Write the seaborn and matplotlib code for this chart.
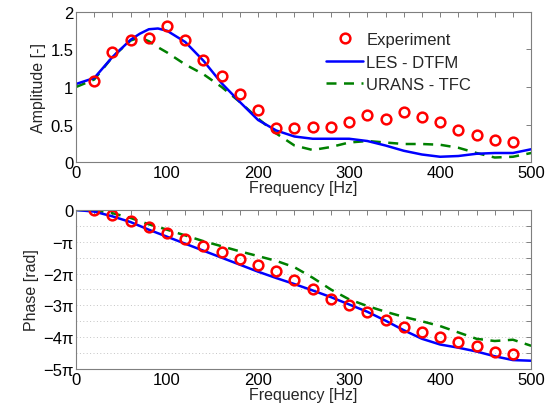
import numpy as np
import matplotlib
matplotlib.use("Agg")
import matplotlib.pyplot as plt
from matplotlib.lines import Line2D
from matplotlib.ticker import MultipleLocator
import seaborn as sns

# Experiment (every 20 Hz)
exp_freq = [20, 40, 60, 80, 100, 120, 140, 160, 180, 200, 220, 240,
            260, 280, 300, 320, 340, 360, 380, 400, 420, 440, 460, 480]
exp_amp = [1.08, 1.47, 1.63, 1.65, 1.81, 1.62, 1.36, 1.15, 0.91, 0.70, 0.45, 0.45,
           0.47, 0.47, 0.54, 0.63, 0.57, 0.67, 0.60, 0.54, 0.43, 0.36, 0.30, 0.27]
# phase in units of pi
exp_phase = [0.0, -0.15, -0.36, -0.52, -0.71, -0.92, -1.13, -1.32, -1.53, -1.72, -1.91, -2.2,
             -2.47, -2.81, -3.0, -3.21, -3.46, -3.67, -3.83, -4.0, -4.14, -4.28, -4.47, -4.53]

# Model curves
sim_freq = [0, 20, 40, 60, 70, 80, 90, 100, 120, 140, 160, 180, 200, 220, 240, 260, 280,
            300, 320, 340, 360, 380, 400, 420, 440, 460, 480, 500]
les_amp = [1.04, 1.12, 1.40, 1.63, 1.71, 1.77, 1.78, 1.75, 1.60, 1.35, 1.05, 0.80, 0.56,
           0.42, 0.34, 0.31, 0.31, 0.31, 0.28, 0.22, 0.15, 0.10, 0.07, 0.08, 0.11, 0.12, 0.12, 0.17]
urans_amp = [1.00, 1.10, 1.40, 1.62, 1.66, 1.61, 1.53, 1.46, 1.30, 1.17, 1.00, 0.80, 0.58,
             0.38, 0.22, 0.16, 0.20, 0.26, 0.28, 0.26, 0.24, 0.24, 0.23, 0.19, 0.12, 0.06, 0.07, 0.12]
les_phase = [0.0, -0.05, -0.2, -0.38, -0.5, -0.62, -0.73, -0.84, -1.06, -1.28, -1.5, -1.72, -1.94,
             -2.14, -2.33, -2.53, -2.74, -2.97, -3.2, -3.48, -3.78, -4.05, -4.23, -4.33, -4.45, -4.6, -4.72, -4.74]
urans_phase = [0.0, -0.01, -0.1, -0.25, -0.35, -0.45, -0.53, -0.62, -0.8, -0.98, -1.14, -1.3, -1.45,
               -1.6, -1.8, -2.13, -2.5, -2.81, -3.02, -3.2, -3.36, -3.5, -3.65, -3.85, -4.05, -4.12, -4.08, -4.27]

y_phase_labels = ["0", "\u2212\u03c0", "\u22122\u03c0", "\u22123\u03c0", "\u22124\u03c0", "\u22125\u03c0"]

sns.set_theme(style="white")
plt.rcParams['font.family'] = ['Liberation Sans', 'DejaVu Sans']
plt.rcParams['font.size'] = 12

RED = "#ff0000"
BLUE = "#0000ff"
GREEN = "#008000"

fig = plt.figure(figsize=(5.47, 4.06), dpi=100)
ax1 = fig.add_axes([0.139, 0.5985, 0.832, 0.3695])
ax2 = fig.add_axes([0.139, 0.0887, 0.832, 0.3916])


def style_axes(ax):
    for s in ax.spines.values():
        s.set_color("#7f7f7f")
        s.set_linewidth(0.8)
    ax.tick_params(which="both", direction="in", top=True, right=True,
                   length=3.5, width=0.7, color="#7f7f7f", labelsize=12,
                   labelcolor="black", pad=2)
    ax.set_xlim(0, 500)
    ax.xaxis.set_major_locator(MultipleLocator(100))
    ax.xaxis.set_minor_locator(MultipleLocator(20))
    ax.set_xlabel("Frequency [Hz]", fontsize=11.5, labelpad=0)


# Amplitude
sns.lineplot(x=sim_freq, y=urans_amp, ax=ax1, color=GREEN, linewidth=1.8)
ax1.lines[-1].set_dashes([4, 3])
sns.lineplot(x=sim_freq, y=les_amp, ax=ax1, color=BLUE, linewidth=1.8)
sns.lineplot(x=exp_freq, y=exp_amp, ax=ax1, linestyle="", marker="o", markersize=7,
             markerfacecolor="none", markeredgecolor=RED, markeredgewidth=1.8)
ax1.set_ylim(0, 2)
ax1.set_yticks([0, 0.5, 1, 1.5, 2])
ax1.set_yticklabels(["0", "0.5", "1", "1.5", "2"])
ax1.set_ylabel("Amplitude [-]", fontsize=11.5, labelpad=3)
style_axes(ax1)

handles = [
    Line2D([], [], linestyle="", marker="o", markersize=7, markerfacecolor="none",
           markeredgecolor=RED, markeredgewidth=1.8),
    Line2D([], [], color=BLUE, linewidth=1.8),
    Line2D([], [], color=GREEN, linewidth=1.8, dashes=[4, 3]),
]
ax1.legend(handles, ["Experiment", "LES - DTFM", "URANS - TFC"], loc="upper left",
           bbox_to_anchor=(0.55, 0.865), frameon=False, fontsize=12, handlelength=2.2,
           handletextpad=0.2, labelspacing=0.45, borderaxespad=0, borderpad=0)

# Phase
sns.lineplot(x=sim_freq, y=np.array(urans_phase) * np.pi, ax=ax2, color=GREEN, linewidth=1.8)
ax2.lines[-1].set_dashes([4, 3])
sns.lineplot(x=sim_freq, y=np.array(les_phase) * np.pi, ax=ax2, color=BLUE, linewidth=1.8)
sns.lineplot(x=exp_freq, y=np.array(exp_phase) * np.pi, ax=ax2, linestyle="", marker="o",
             markersize=7, markerfacecolor="none", markeredgecolor=RED, markeredgewidth=1.8)
ax2.set_ylim(-5 * np.pi, 0)
ax2.set_yticks([-k * np.pi for k in range(6)])
ax2.set_yticklabels(y_phase_labels)
ax2.yaxis.set_minor_locator(MultipleLocator(np.pi / 2))
ax2.grid(True, which="both", axis="y", linestyle=(0, (1, 2.5)), color="#c4c4c4", linewidth=0.7)
ax2.set_axisbelow(True)
ax2.set_ylabel("Phase [rad]", fontsize=11.5, labelpad=3)
style_axes(ax2)

fig.savefig("out.png", dpi=100)
